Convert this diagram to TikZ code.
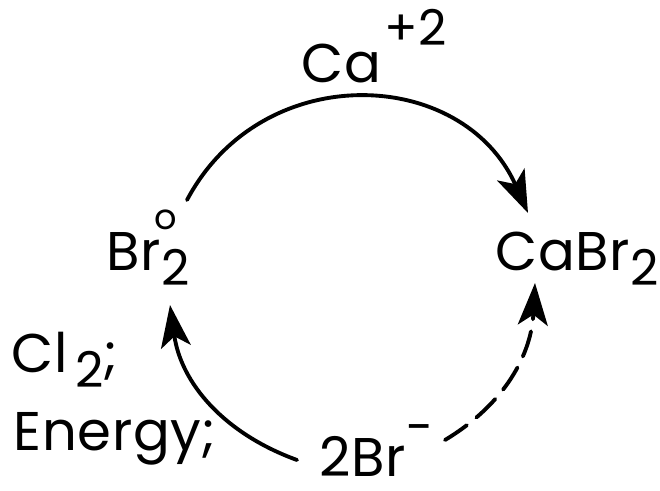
\documentclass[tikz,border=0pt]{standalone}
\usepackage{fontspec}
\setmainfont{Poppins}[LetterSpace=1]
\usetikzlibrary{arrows.meta}

\newcommand{\chsub}[1]{\raisebox{-4.5pt}{\fontsize{14}{16}\selectfont #1}}
\newcommand{\chsup}[2]{\raisebox{#1}{\fontsize{14}{16}\selectfont #2}}

\begin{document}
\begin{tikzpicture}[x=0.01cm, y=0.01cm, line width=1.1pt, line cap=round,
	lbl/.style={anchor=base west, inner sep=0pt, font=\fontsize{15.5}{18}\selectfont},
	tip/.style={-{Stealth[length=12pt, width=8.5pt, inset=3pt]}}]
	\useasboundingbox (0,0) rectangle (660,490);
	% species round the cycle
	\node[lbl] (ca) at (300,408) {Ca\kern1pt\chsup{10.5pt}{+2}};
	\node[lbl] (brz) at (105,220) {Br\rlap{\raisebox{11.5pt}{\kern-2pt\fontsize{10}{11}\selectfont o}}\chsub{2}};
	\node[lbl] (cabr) at (494,220) {CaBr\chsub{2}};
	\node[lbl] (cl) at (10,118) {Cl\kern2pt\chsub{2};};
	\node[lbl] (energy) at (12,40) {Energy;};
	\node[lbl] (brm) at (318,14) {2Br\chsup{9pt}{-}};
	% arc ends
	\coordinate (ts) at (187,290);
	\coordinate (te) at (528,277);
	\coordinate (ls) at (297,30);
	\coordinate (le) at (170,185);
	\coordinate (ds) at (445,50);
	\coordinate (de) at (535,207);
	\draw[tip] (ts) to[out=62, in=114, looseness=1.2] (te);
	\draw[tip] (ls) to[out=160, in=-82] (le);
	\draw[tip, dash pattern=on 7.5pt off 3.5pt] (ds) to[out=31, in=-93] (de);
\end{tikzpicture}
\end{document}
